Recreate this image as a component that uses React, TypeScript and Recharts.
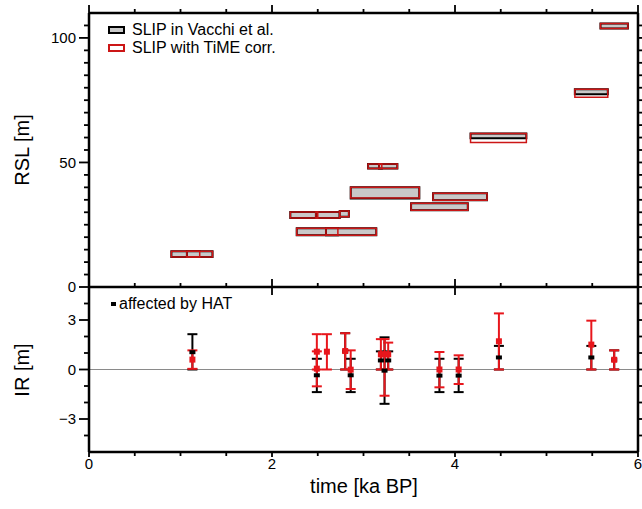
import React from 'react';
import { ComposedChart, XAxis, YAxis, ReferenceArea, ReferenceLine, Scatter, ErrorBar } from 'recharts';

const FONT = '"Liberation Sans", Arial, Helvetica, sans-serif';
const RED_BOX = '#cc1616';
const RED_BAR = '#e8161c';
const GRAY = '#c9c9c9';

// ---- SLIP boxes (age in ka BP, RSL in m) ----
const slipAgeMin = [0.90, 1.07, 2.20, 2.48, 2.74, 2.27, 2.59, 2.86, 3.05, 3.17, 3.52, 3.76, 4.17, 5.31, 5.59];
const slipAgeMax = [1.21, 1.35, 2.50, 2.74, 2.84, 2.72, 3.14, 3.61, 3.20, 3.37, 4.14, 4.35, 4.78, 5.67, 5.89];
const rslMinVacchi = [12.0, 12.0, 27.7, 27.7, 28.2, 20.8, 20.8, 35.5, 47.6, 47.6, 30.8, 34.8, 59.7, 77.4, 103.8];
const rslMaxVacchi = [14.4, 14.4, 30.1, 30.1, 30.5, 23.6, 23.6, 40.0, 49.4, 49.4, 33.6, 37.6, 61.6, 79.4, 105.8];
const rslMinTime = [12.0, 12.0, 27.7, 27.7, 28.2, 20.8, 20.8, 35.7, 47.6, 47.6, 30.8, 34.8, 58.0, 76.2, 103.8];
const rslMaxTime = [14.4, 14.4, 30.1, 30.1, 30.5, 23.6, 23.6, 40.0, 49.4, 49.4, 33.6, 37.6, 61.6, 79.4, 105.8];

// ---- Index reliability (IR) ----
const vacchiT = [1.13, 2.49, 2.80, 2.86, 3.19, 3.23, 3.27, 3.83, 4.04, 4.48, 5.49, 5.74];
const vacchiIR = [1.05, -0.35, 1.10, -0.35, 0.55, -0.07, 0.55, -0.37, -0.37, 0.73, 0.73, 0.59];
const vacchiLow = [0.0, -1.37, 0.0, -1.37, 0.0, -2.08, 0.0, -1.37, -1.37, 0.0, 0.0, 0.0];
const vacchiHigh = [2.14, 0.65, 2.20, 0.65, 1.10, 1.95, 1.10, 0.65, 0.65, 1.43, 1.43, 1.16];

const timeT = [1.13, 2.49, 2.49, 2.60, 2.80, 2.86, 3.19, 3.23, 3.27, 3.83, 4.04, 4.48, 5.49, 5.74];
const timeIR = [0.60, 1.08, 0.05, 1.08, 1.12, -0.01, 0.92, 0.92, 0.92, 0.0, 0.0, 1.71, 1.51, 0.59];
const timeLow = [0.04, 0.0, -1.02, 0.0, 0.0, -1.18, 0.0, -1.59, 0.0, -1.08, -0.88, 0.0, 0.0, 0.0];
const timeHigh = [1.16, 2.14, 1.10, 2.14, 2.20, 1.16, 1.84, 1.84, 1.63, 1.06, 0.86, 3.40, 2.96, 1.16];

// ---- axes ----
const X_MIN = 0;
const X_MAX = 6;
const RSL_MIN = 0;
const RSL_MAX = 110;
const IR_MIN = -5;
const IR_MAX = 5;
const xTicks = [0, 0.5, 1, 1.5, 2, 2.5, 3, 3.5, 4, 4.5, 5, 5.5, 6];
const xLabels = [0, 2, 4, 6];
const rslTicks = [0, 5, 10, 15, 20, 25, 30, 35, 40, 45, 50, 55, 60, 65, 70, 75, 80, 85, 90, 95, 100, 105];
const rslLabels = [0, 50, 100];
const irTicks = [-4, -3, -2, -1, 0, 1, 2, 3, 4];
const irLabels = [-3, 0, 3];

// panel layout (pixels)
const PLOT_TOP = 13;
const PLOT_BOTTOM = 452;
const PANEL_SPLIT = 287;
const PLOT_H = PLOT_BOTTOM - PLOT_TOP;
// each panel's axis spans the full plot height; its own range fills only its panel
const rslDomain = [RSL_MAX - (RSL_MAX - RSL_MIN) * PLOT_H / (PANEL_SPLIT - PLOT_TOP), RSL_MAX];
const irDomain = [IR_MIN, IR_MIN + (IR_MAX - IR_MIN) * PLOT_H / (PLOT_BOTTOM - PANEL_SPLIT)];
const xDomain = [X_MIN - 0.0001, X_MAX + 0.0001];

const vacchiData = vacchiT.map((t, i) => ({ x: t, ir: vacchiIR[i], err: [vacchiIR[i] - vacchiLow[i], vacchiHigh[i] - vacchiIR[i]] }));
const timeData = timeT.map((t, i) => ({ x: t, ir: timeIR[i], err: [timeIR[i] - timeLow[i], timeHigh[i] - timeIR[i]] }));

const topTicks = xTicks.map((v) => ({ x: v, y: RSL_MAX }));
const midTicks = xTicks.map((v) => ({ x: v, y: RSL_MIN }));
const botTicks = xTicks.map((v) => ({ x: v, y: IR_MIN }));
const leftRsl = rslTicks.map((v) => ({ x: X_MIN, y: v }));
const rightRsl = rslTicks.map((v) => ({ x: X_MAX, y: v }));
const leftIr = irTicks.map((v) => ({ x: X_MIN, y: v }));
const rightIr = irTicks.map((v) => ({ x: X_MAX, y: v }));

const fmt = (v: number) => (v < 0 ? '\u2212' + Math.abs(v) : String(v));

const TW = 1.8; // tick thickness

const vTick = (dir: number, majLen: number, minLen: number, cross: boolean, showLabel: boolean) => (p: any) => {
  const v = p.payload.x;
  const major = xLabels.includes(v);
  const len = major ? majLen : minLen;
  const cx = Number(p.cx);
  const cy = Number(p.cy);
  const a = cross && major ? cy - dir * len : cy;
  const b = cy + dir * len;
  return (
    <g>
      <rect x={cx - TW / 2} y={Math.min(a, b)} width={TW} height={Math.abs(b - a)} fill="#000" />
      {showLabel && major && (
        <text x={cx} y={cy + 17} textAnchor="middle" fontSize={15} fontFamily={FONT} fill="#000">{fmt(v)}</text>
      )}
    </g>
  );
};

const hTick = (dir: number, labels: number[], showLabel: boolean) => (p: any) => {
  const v = p.payload.y;
  const major = labels.includes(v);
  const len = major ? 10 : 5;
  const cx = Number(p.cx);
  const cy = Number(p.cy);
  return (
    <g>
      <rect x={dir < 0 ? cx - len : cx} y={cy - TW / 2} width={len} height={TW} fill="#000" />
      {showLabel && major && (
        <text x={cx - 13} y={cy} dy="0.36em" textAnchor="end" fontSize={15} fontFamily={FONT} fill="#000">{fmt(v)}</text>
      )}
    </g>
  );
};

const BlackMark = (p: any) => <rect x={p.cx - 3} y={p.cy - 2} width={6} height={4} fill="#000" />;
const RedMark = (p: any) => <rect x={p.cx - 3} y={p.cy - 3} width={6} height={6} fill={RED_BAR} />;

const textStyle: React.CSSProperties = { position: 'absolute', fontFamily: FONT, color: '#000', whiteSpace: 'nowrap', lineHeight: 1 };
const FRAME = { stroke: '#000', strokeWidth: 2.5, ifOverflow: 'visible' as const };

export default function App() {
  return (
    <div style={{ position: 'absolute', left: 0, top: 0, width: 642, height: 509, background: '#fff' }}>
      <ComposedChart width={642} height={509} margin={{ top: PLOT_TOP, right: 4, bottom: 509 - PLOT_BOTTOM, left: 89 }}
        style={{ overflow: 'visible' }}>
        <XAxis xAxisId="x" dataKey="x" type="number" domain={xDomain} hide />
        <YAxis yAxisId="rsl" type="number" domain={rslDomain} hide />
        <YAxis yAxisId="ir" type="number" domain={irDomain} hide />

        {slipAgeMin.map((a, i) => (
          <ReferenceArea key={'v' + i} xAxisId="x" yAxisId="rsl" x1={a} x2={slipAgeMax[i]} y1={rslMinVacchi[i]} y2={rslMaxVacchi[i]}
            fill={GRAY} fillOpacity={1} stroke="#000" strokeWidth={2} />
        ))}
        {slipAgeMin.map((a, i) => (
          <ReferenceArea key={'r' + i} xAxisId="x" yAxisId="rsl" x1={a} x2={slipAgeMax[i]} y1={rslMinTime[i]} y2={rslMaxTime[i]}
            fill="none" fillOpacity={0} stroke={RED_BOX} strokeWidth={1.5} />
        ))}

        <ReferenceLine xAxisId="x" yAxisId="ir" y={0} stroke="#8a8a8a" strokeWidth={1} />

        <Scatter data={vacchiData} xAxisId="x" yAxisId="ir" dataKey="ir" fill="#000" shape={BlackMark} isAnimationActive={false}>
          <ErrorBar dataKey="err" direction="y" width={5} stroke="#000" strokeWidth={2} />
        </Scatter>
        <Scatter data={timeData} xAxisId="x" yAxisId="ir" dataKey="ir" fill={RED_BAR} shape={RedMark} isAnimationActive={false}>
          <ErrorBar dataKey="err" direction="y" width={5} stroke={RED_BAR} strokeWidth={2} />
        </Scatter>

        {/* frame */}
        <ReferenceLine xAxisId="x" yAxisId="rsl" y={RSL_MAX} {...FRAME} />
        <ReferenceLine xAxisId="x" yAxisId="rsl" y={RSL_MIN} {...FRAME} />
        <ReferenceLine xAxisId="x" yAxisId="ir" y={IR_MIN} {...FRAME} />
        <ReferenceLine xAxisId="x" yAxisId="rsl" x={X_MIN} {...FRAME} />
        <ReferenceLine xAxisId="x" yAxisId="rsl" x={X_MAX} {...FRAME} />

        {/* ticks */}
        <Scatter data={topTicks} xAxisId="x" yAxisId="rsl" dataKey="y" shape={vTick(-1, 8, 4, false, false)} isAnimationActive={false} />
        <Scatter data={midTicks} xAxisId="x" yAxisId="rsl" dataKey="y" shape={vTick(-1, 8, 4, true, false)} isAnimationActive={false} />
        <Scatter data={botTicks} xAxisId="x" yAxisId="ir" dataKey="y" shape={vTick(1, 5, 4, false, true)} isAnimationActive={false} />
        <Scatter data={leftRsl} xAxisId="x" yAxisId="rsl" dataKey="y" shape={hTick(-1, rslLabels, true)} isAnimationActive={false} />
        <Scatter data={rightRsl} xAxisId="x" yAxisId="rsl" dataKey="y" shape={hTick(1, rslLabels, false)} isAnimationActive={false} />
        <Scatter data={leftIr} xAxisId="x" yAxisId="ir" dataKey="y" shape={hTick(-1, irLabels, true)} isAnimationActive={false} />
        <Scatter data={rightIr} xAxisId="x" yAxisId="ir" dataKey="y" shape={hTick(1, irLabels, false)} isAnimationActive={false} />
      </ComposedChart>

      {/* legend top */}
      <div style={{ position: 'absolute', left: 108, top: 26, width: 17, height: 8, background: GRAY, border: '2px solid #000', boxSizing: 'border-box' }} />
      <div style={{ ...textStyle, left: 132, top: 22, fontSize: 16 }}>SLIP in Vacchi et al.</div>
      <div style={{ position: 'absolute', left: 108, top: 44, width: 17, height: 8, background: '#fff', border: '2px solid ' + RED_BOX, boxSizing: 'border-box' }} />
      <div style={{ ...textStyle, left: 132, top: 40, fontSize: 16 }}>SLIP with TiME corr.</div>

      {/* legend bottom */}
      <div style={{ position: 'absolute', left: 111, top: 302, width: 5, height: 4, background: '#000' }} />
      <div style={{ ...textStyle, left: 119, top: 296, fontSize: 16 }}>affected by HAT</div>

      {/* axis titles */}
      <div style={{ ...textStyle, left: 22, top: 150, fontSize: 20, transform: 'translate(-50%, -50%) rotate(-90deg)' }}>RSL [m]</div>
      <div style={{ ...textStyle, left: 22, top: 370, fontSize: 20, transform: 'translate(-50%, -50%) rotate(-90deg)' }}>IR [m]</div>
      <div style={{ ...textStyle, left: 364, top: 486, fontSize: 20, transform: 'translate(-50%, -50%)' }}>time [ka BP]</div>
    </div>
  );
}
